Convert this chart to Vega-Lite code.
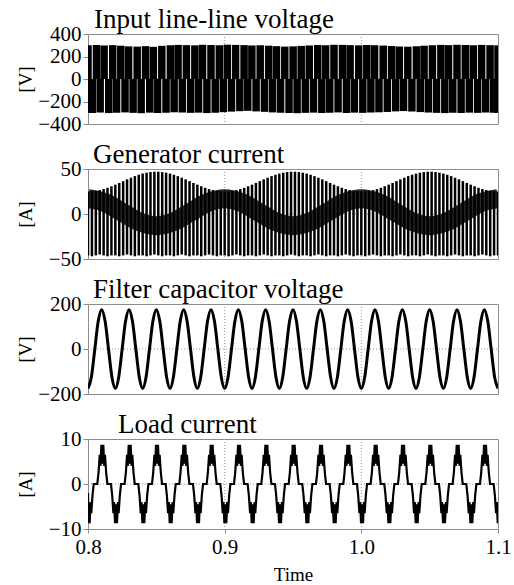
{
"$schema":"https://vega.github.io/schema/vega-lite/v6.json",
"background":"white",
"padding":{"left":15,"top":5,"right":2,"bottom":0},
"bounds":"flush",
"spacing":45,
"config":{
 "font":"Liberation Serif",
 "view":{"stroke":"#8c8c8c","strokeWidth":1},
 "axis":{"labelFont":"Liberation Serif","labelFontSize":21,"labelColor":"#000","titleFont":"Liberation Serif","titleFontWeight":"normal","titleColor":"#000","titleFontSize":19,"domain":false,"grid":false,"tickColor":"#8c8c8c","labelFlush":false},
 "axisY":{"titleX":-63,"titleY":45,"titleBaseline":"middle","titleAlign":"center","tickSize":5,"labelPadding":2},
 "title":{"font":"Liberation Serif","fontSize":27,"fontWeight":"normal","anchor":"start","frame":"group","color":"#000"}
},
"vconcat":[
{
 "width":410,"height":90,
 "title":{"text":"Input line-line voltage","font":"Liberation Serif","fontSize":27,"fontWeight":"normal","anchor":"start","frame":"group","dx":6,"dy":12,"offset":1},
 "encoding":{"x":{"field":"t","type":"quantitative","scale":{"domain":[0.8,1.1],"nice":false,"zero":false},"axis":null}},
 "layer":[
  {"data":{"values":[{"t":0.9},{"t":1.0}]},"mark":{"type":"rule","color":"#999","strokeDash":[1,2]},"encoding":{}},
  {"data":{"values":[{"t":0.8,"t2":1.1,"y":0}]},"mark":{"type":"rule","color":"#999","strokeDash":[1,2]},
   "encoding":{"x2":{"field":"t2"},"y":{"field":"y","type":"quantitative","scale":{"domain":[-400,400],"nice":false},"axis":{"values":[-400,-200,0,200,400],"title":"[V]"}}}},
  {"data":{"values":[
{"t":0.8000,"hi":300},{"t":0.8062,"hi":302},{"t":0.8118,"hi":298},{"t":0.8181,"hi":301},{"t":0.8240,"hi":296},{"t":0.8297,"hi":290},{"t":0.8360,"hi":288},{"t":0.8421,"hi":292},{"t":0.8478,"hi":286},{"t":0.8540,"hi":295},
{"t":0.8603,"hi":300},{"t":0.8659,"hi":303},{"t":0.8720,"hi":301},{"t":0.8782,"hi":299},{"t":0.8838,"hi":304},{"t":0.8900,"hi":302},{"t":0.8961,"hi":300},{"t":0.9019,"hi":305},{"t":0.9080,"hi":303},{"t":0.9142,"hi":301},
{"t":0.9199,"hi":298},{"t":0.9260,"hi":300},{"t":0.9322,"hi":296},{"t":0.9379,"hi":292},{"t":0.9440,"hi":288},{"t":0.9501,"hi":290},{"t":0.9560,"hi":294},{"t":0.9619,"hi":298},{"t":0.9681,"hi":302},{"t":0.9739,"hi":300},
{"t":0.9800,"hi":304},{"t":0.9862,"hi":303},{"t":0.9918,"hi":301},{"t":0.9981,"hi":299},{"t":1.0040,"hi":302},{"t":1.0097,"hi":300},{"t":1.0160,"hi":297},{"t":1.0221,"hi":293},{"t":1.0278,"hi":289},{"t":1.0340,"hi":287},
{"t":1.0403,"hi":291},{"t":1.0459,"hi":296},{"t":1.0520,"hi":300},{"t":1.0582,"hi":303},{"t":1.0638,"hi":301},{"t":1.0700,"hi":304},{"t":1.0761,"hi":302},{"t":1.0819,"hi":300},{"t":1.0880,"hi":303},{"t":1.0942,"hi":301},
{"t":1.1000,"hi":299}]},
   "mark":{"type":"rule","color":"#000","strokeWidth":7.5,"clip":true},
   "encoding":{"y":{"field":"hi","type":"quantitative","scale":{"domain":[-400,400],"nice":false},"axis":{"values":[-400,-200,0,200,400],"title":"[V]"}},"y2":{"datum":0}}},
  {"data":{"values":[
{"t":0.8000,"lo":-300},{"t":0.8031,"lo":-302},{"t":0.8089,"lo":-298},{"t":0.8152,"lo":-303},{"t":0.8209,"lo":-300},{"t":0.8271,"lo":-297},{"t":0.8330,"lo":-301},{"t":0.8389,"lo":-304},{"t":0.8452,"lo":-299},{"t":0.8509,"lo":-302},
{"t":0.8571,"lo":-300},{"t":0.8630,"lo":-296},{"t":0.8690,"lo":-298},{"t":0.8751,"lo":-301},{"t":0.8809,"lo":-299},{"t":0.8870,"lo":-303},{"t":0.8931,"lo":-300},{"t":0.8990,"lo":-295},{"t":0.9050,"lo":-290},{"t":0.9111,"lo":-286},
{"t":0.9169,"lo":-283},{"t":0.9230,"lo":-288},{"t":0.9291,"lo":-292},{"t":0.9350,"lo":-297},{"t":0.9409,"lo":-300},{"t":0.9471,"lo":-302},{"t":0.9530,"lo":-304},{"t":0.9590,"lo":-301},{"t":0.9650,"lo":-299},{"t":0.9711,"lo":-302},
{"t":0.9769,"lo":-300},{"t":0.9830,"lo":-297},{"t":0.9891,"lo":-302},{"t":0.9949,"lo":-299},{"t":1.0011,"lo":-301},{"t":1.0070,"lo":-298},{"t":1.0129,"lo":-296},{"t":1.0190,"lo":-293},{"t":1.0251,"lo":-288},{"t":1.0309,"lo":-285},
{"t":1.0370,"lo":-289},{"t":1.0431,"lo":-294},{"t":1.0490,"lo":-298},{"t":1.0550,"lo":-301},{"t":1.0611,"lo":-303},{"t":1.0669,"lo":-300},{"t":1.0730,"lo":-302},{"t":1.0790,"lo":-299},{"t":1.0851,"lo":-301},{"t":1.0910,"lo":-298},
{"t":1.0969,"lo":-300},{"t":1.1000,"lo":-301}]},
   "mark":{"type":"rule","color":"#000","strokeWidth":7.5,"clip":true},
   "encoding":{"y":{"field":"lo","type":"quantitative","scale":{"domain":[-400,400],"nice":false},"axis":{"values":[-400,-200,0,200,400],"title":"[V]"}},"y2":{"datum":0}}}
 ]
},
{
 "width":410,"height":90,
 "title":{"text":"Generator current","font":"Liberation Serif","fontSize":27,"fontWeight":"normal","anchor":"start","frame":"group","dx":5,"dy":12,"offset":1},
 "encoding":{"x":{"field":"t","type":"quantitative","scale":{"domain":[0.8,1.1],"nice":false,"zero":false},"axis":null}},
 "layer":[
  {"data":{"values":[{"t":0.9},{"t":1.0}]},"mark":{"type":"rule","color":"#999","strokeDash":[1,2]},"encoding":{}},
  {"data":{"values":[{"t":0.8,"t2":1.1,"y":0}]},"mark":{"type":"rule","color":"#999","strokeDash":[1,2]},
   "encoding":{"x2":{"field":"t2"},"y":{"field":"y","type":"quantitative","scale":{"domain":[-50,50],"nice":false},"axis":{"values":[-50,0,50],"title":"[A]"}}}},
  {"data":{"values":[
{"t":0.8,"m":17},{"t":0.8125,"m":12.6},{"t":0.825,"m":2},{"t":0.8375,"m":-8.6},{"t":0.85,"m":-13},{"t":0.8625,"m":-8.6},{"t":0.875,"m":2},{"t":0.8875,"m":12.6},
{"t":0.9,"m":17},{"t":0.9125,"m":12.6},{"t":0.925,"m":2},{"t":0.9375,"m":-8.6},{"t":0.95,"m":-13},{"t":0.9625,"m":-8.6},{"t":0.975,"m":2},{"t":0.9875,"m":12.6},
{"t":1.0,"m":17},{"t":1.0125,"m":12.6},{"t":1.025,"m":2},{"t":1.0375,"m":-8.6},{"t":1.05,"m":-13},{"t":1.0625,"m":-8.6},{"t":1.075,"m":2},{"t":1.0875,"m":12.6},
{"t":1.1,"m":17}]},
   "mark":{"type":"line","color":"#000","strokeWidth":19,"opacity":0.85,"interpolate":"monotone","clip":true,"strokeCap":"butt"},
   "encoding":{"y":{"field":"m","type":"quantitative","scale":{"domain":[-50,50],"nice":false},"axis":{"values":[-50,0,50],"title":"[A]"}}}},
  {"data":{"values":[
{"t":0.8,"hi":25,"lo":-46},{"t":0.80286,"hi":25.2,"lo":-47},{"t":0.80571,"hi":25.7,"lo":-46},{"t":0.80857,"hi":26.6,"lo":-45},{"t":0.81143,"hi":27.7,"lo":-46},{"t":0.81429,"hi":29.1,"lo":-47},{"t":0.81714,"hi":30.8,"lo":-46},
{"t":0.82,"hi":32.6,"lo":-46},{"t":0.82286,"hi":34.5,"lo":-47},{"t":0.82571,"hi":36.5,"lo":-46},{"t":0.82857,"hi":38.5,"lo":-45},{"t":0.83143,"hi":40.3,"lo":-46},{"t":0.83429,"hi":42.1,"lo":-47},{"t":0.83714,"hi":43.6,"lo":-46},
{"t":0.84,"hi":44.9,"lo":-46},{"t":0.84286,"hi":45.9,"lo":-47},{"t":0.84571,"hi":46.6,"lo":-46},{"t":0.84857,"hi":47,"lo":-45},{"t":0.85143,"hi":47,"lo":-46},{"t":0.85429,"hi":46.6,"lo":-47},{"t":0.85714,"hi":45.9,"lo":-46},
{"t":0.86,"hi":44.9,"lo":-46},{"t":0.86286,"hi":43.6,"lo":-47},{"t":0.86571,"hi":42.1,"lo":-46},{"t":0.86857,"hi":40.3,"lo":-45},{"t":0.87143,"hi":38.5,"lo":-46},{"t":0.87429,"hi":36.5,"lo":-47},{"t":0.87714,"hi":34.5,"lo":-46},
{"t":0.88,"hi":32.6,"lo":-46},{"t":0.88286,"hi":30.8,"lo":-47},{"t":0.88571,"hi":29.1,"lo":-46},{"t":0.88857,"hi":27.7,"lo":-45},{"t":0.89143,"hi":26.6,"lo":-46},{"t":0.89429,"hi":25.7,"lo":-47},{"t":0.89714,"hi":25.2,"lo":-46},
{"t":0.9,"hi":25,"lo":-46},{"t":0.90286,"hi":25.2,"lo":-47},{"t":0.90571,"hi":25.7,"lo":-46},{"t":0.90857,"hi":26.6,"lo":-45},{"t":0.91143,"hi":27.7,"lo":-46},{"t":0.91429,"hi":29.1,"lo":-47},{"t":0.91714,"hi":30.8,"lo":-46},
{"t":0.92,"hi":32.6,"lo":-46},{"t":0.92286,"hi":34.5,"lo":-47},{"t":0.92571,"hi":36.5,"lo":-46},{"t":0.92857,"hi":38.5,"lo":-45},{"t":0.93143,"hi":40.3,"lo":-46},{"t":0.93429,"hi":42.1,"lo":-47},{"t":0.93714,"hi":43.6,"lo":-46},
{"t":0.94,"hi":44.9,"lo":-46},{"t":0.94286,"hi":45.9,"lo":-47},{"t":0.94571,"hi":46.6,"lo":-46},{"t":0.94857,"hi":47,"lo":-45},{"t":0.95143,"hi":47,"lo":-46},{"t":0.95429,"hi":46.6,"lo":-47},{"t":0.95714,"hi":45.9,"lo":-46},
{"t":0.96,"hi":44.9,"lo":-46},{"t":0.96286,"hi":43.6,"lo":-47},{"t":0.96571,"hi":42.1,"lo":-46},{"t":0.96857,"hi":40.3,"lo":-45},{"t":0.97143,"hi":38.5,"lo":-46},{"t":0.97429,"hi":36.5,"lo":-47},{"t":0.97714,"hi":34.5,"lo":-46},
{"t":0.98,"hi":32.6,"lo":-46},{"t":0.98286,"hi":30.8,"lo":-47},{"t":0.98571,"hi":29.1,"lo":-46},{"t":0.98857,"hi":27.7,"lo":-45},{"t":0.99143,"hi":26.6,"lo":-46},{"t":0.99429,"hi":25.7,"lo":-47},{"t":0.99714,"hi":25.2,"lo":-46},
{"t":1.0,"hi":25,"lo":-46},{"t":1.00286,"hi":25.2,"lo":-47},{"t":1.00571,"hi":25.7,"lo":-46},{"t":1.00857,"hi":26.6,"lo":-45},{"t":1.01143,"hi":27.7,"lo":-46},{"t":1.01429,"hi":29.1,"lo":-47},{"t":1.01714,"hi":30.8,"lo":-46},
{"t":1.02,"hi":32.6,"lo":-46},{"t":1.02286,"hi":34.5,"lo":-47},{"t":1.02571,"hi":36.5,"lo":-46},{"t":1.02857,"hi":38.5,"lo":-45},{"t":1.03143,"hi":40.3,"lo":-46},{"t":1.03429,"hi":42.1,"lo":-47},{"t":1.03714,"hi":43.6,"lo":-46},
{"t":1.04,"hi":44.9,"lo":-46},{"t":1.04286,"hi":45.9,"lo":-47},{"t":1.04571,"hi":46.6,"lo":-46},{"t":1.04857,"hi":47,"lo":-45},{"t":1.05143,"hi":47,"lo":-46},{"t":1.05429,"hi":46.6,"lo":-47},{"t":1.05714,"hi":45.9,"lo":-46},
{"t":1.06,"hi":44.9,"lo":-46},{"t":1.06286,"hi":43.6,"lo":-47},{"t":1.06571,"hi":42.1,"lo":-46},{"t":1.06857,"hi":40.3,"lo":-45},{"t":1.07143,"hi":38.5,"lo":-46},{"t":1.07429,"hi":36.5,"lo":-47},{"t":1.07714,"hi":34.5,"lo":-46},
{"t":1.08,"hi":32.6,"lo":-46},{"t":1.08286,"hi":30.8,"lo":-47},{"t":1.08571,"hi":29.1,"lo":-46},{"t":1.08857,"hi":27.7,"lo":-45},{"t":1.09143,"hi":26.6,"lo":-46},{"t":1.09429,"hi":25.7,"lo":-47},{"t":1.09714,"hi":25.2,"lo":-46},
{"t":1.1,"hi":25,"lo":-46}]},
   "mark":{"type":"rule","color":"#000","strokeWidth":2.5,"clip":true},
   "encoding":{"y":{"field":"hi","type":"quantitative","scale":{"domain":[-50,50],"nice":false},"axis":{"values":[-50,0,50],"title":"[A]"}},"y2":{"field":"lo"}}}
 ]
},
{
 "width":410,"height":90,
 "title":{"text":"Filter capacitor voltage","font":"Liberation Serif","fontSize":27,"fontWeight":"normal","anchor":"start","frame":"group","dx":5,"dy":12,"offset":1},
 "encoding":{"x":{"field":"t","type":"quantitative","scale":{"domain":[0.8,1.1],"nice":false,"zero":false},"axis":null}},
 "layer":[
  {"data":{"values":[{"t":0.9},{"t":1.0}]},"mark":{"type":"rule","color":"#999","strokeDash":[1,2]},"encoding":{}},
  {"data":{"values":[{"t":0.8,"t2":1.1,"y":0}]},"mark":{"type":"rule","color":"#999","strokeDash":[1,2]},
   "encoding":{"x2":{"field":"t2"},"y":{"field":"y","type":"quantitative","scale":{"domain":[-200,200],"nice":false},"axis":{"values":[-200,0,200],"title":"[V]"}}}},
  {"data":{"values":[
{"t":0.8,"v":-175},{"t":0.8025,"v":-124},{"t":0.805,"v":0},{"t":0.8075,"v":124},{"t":0.81,"v":175},{"t":0.8125,"v":124},{"t":0.815,"v":0},{"t":0.8175,"v":-124},
{"t":0.82,"v":-175},{"t":0.8225,"v":-124},{"t":0.825,"v":0},{"t":0.8275,"v":124},{"t":0.83,"v":175},{"t":0.8325,"v":124},{"t":0.835,"v":0},{"t":0.8375,"v":-124},
{"t":0.84,"v":-175},{"t":0.8425,"v":-124},{"t":0.845,"v":0},{"t":0.8475,"v":124},{"t":0.85,"v":175},{"t":0.8525,"v":124},{"t":0.855,"v":0},{"t":0.8575,"v":-124},
{"t":0.86,"v":-175},{"t":0.8625,"v":-124},{"t":0.865,"v":0},{"t":0.8675,"v":124},{"t":0.87,"v":175},{"t":0.8725,"v":124},{"t":0.875,"v":0},{"t":0.8775,"v":-124},
{"t":0.88,"v":-175},{"t":0.8825,"v":-124},{"t":0.885,"v":0},{"t":0.8875,"v":124},{"t":0.89,"v":175},{"t":0.8925,"v":124},{"t":0.895,"v":0},{"t":0.8975,"v":-124},
{"t":0.9,"v":-175},{"t":0.9025,"v":-124},{"t":0.905,"v":0},{"t":0.9075,"v":124},{"t":0.91,"v":175},{"t":0.9125,"v":124},{"t":0.915,"v":0},{"t":0.9175,"v":-124},
{"t":0.92,"v":-175},{"t":0.9225,"v":-124},{"t":0.925,"v":0},{"t":0.9275,"v":124},{"t":0.93,"v":175},{"t":0.9325,"v":124},{"t":0.935,"v":0},{"t":0.9375,"v":-124},
{"t":0.94,"v":-175},{"t":0.9425,"v":-124},{"t":0.945,"v":0},{"t":0.9475,"v":124},{"t":0.95,"v":175},{"t":0.9525,"v":124},{"t":0.955,"v":0},{"t":0.9575,"v":-124},
{"t":0.96,"v":-175},{"t":0.9625,"v":-124},{"t":0.965,"v":0},{"t":0.9675,"v":124},{"t":0.97,"v":175},{"t":0.9725,"v":124},{"t":0.975,"v":0},{"t":0.9775,"v":-124},
{"t":0.98,"v":-175},{"t":0.9825,"v":-124},{"t":0.985,"v":0},{"t":0.9875,"v":124},{"t":0.99,"v":175},{"t":0.9925,"v":124},{"t":0.995,"v":0},{"t":0.9975,"v":-124},
{"t":1.0,"v":-175},{"t":1.0025,"v":-124},{"t":1.005,"v":0},{"t":1.0075,"v":124},{"t":1.01,"v":175},{"t":1.0125,"v":124},{"t":1.015,"v":0},{"t":1.0175,"v":-124},
{"t":1.02,"v":-175},{"t":1.0225,"v":-124},{"t":1.025,"v":0},{"t":1.0275,"v":124},{"t":1.03,"v":175},{"t":1.0325,"v":124},{"t":1.035,"v":0},{"t":1.0375,"v":-124},
{"t":1.04,"v":-175},{"t":1.0425,"v":-124},{"t":1.045,"v":0},{"t":1.0475,"v":124},{"t":1.05,"v":175},{"t":1.0525,"v":124},{"t":1.055,"v":0},{"t":1.0575,"v":-124},
{"t":1.06,"v":-175},{"t":1.0625,"v":-124},{"t":1.065,"v":0},{"t":1.0675,"v":124},{"t":1.07,"v":175},{"t":1.0725,"v":124},{"t":1.075,"v":0},{"t":1.0775,"v":-124},
{"t":1.08,"v":-175},{"t":1.0825,"v":-124},{"t":1.085,"v":0},{"t":1.0875,"v":124},{"t":1.09,"v":175},{"t":1.0925,"v":124},{"t":1.095,"v":0},{"t":1.0975,"v":-124},
{"t":1.1,"v":-175}]},
   "mark":{"type":"line","color":"#000","strokeWidth":3,"interpolate":"monotone","clip":true},
   "encoding":{"y":{"field":"v","type":"quantitative","scale":{"domain":[-200,200],"nice":false},"axis":{"values":[-200,0,200],"title":"[V]"}}}}
 ]
},
{
 "width":410,"height":90,
 "title":{"text":"Load current","font":"Liberation Serif","fontSize":27,"fontWeight":"normal","anchor":"start","frame":"group","dx":30,"dy":12,"offset":1},
 "encoding":{"x":{"field":"t","type":"quantitative","scale":{"domain":[0.8,1.1],"nice":false,"zero":false},"axis":{"values":[0.8,0.9,1.0,1.1],"format":".1f","title":"Time","tickSize":4,"labelPadding":3,"titlePadding":8}}},
 "layer":[
  {"data":{"values":[{"t":0.9},{"t":1.0}]},"mark":{"type":"rule","color":"#999","strokeDash":[1,2]},"encoding":{}},
  {"data":{"values":[{"t":0.8,"t2":1.1,"y":0}]},"mark":{"type":"rule","color":"#999","strokeDash":[1,2]},
   "encoding":{"x2":{"field":"t2"},"y":{"field":"y","type":"quantitative","scale":{"domain":[-10,10],"nice":false},"axis":{"values":[-10,0,10],"title":"[A]"}}}},
  {"data":{"values":[
{"t":0.8,"y":-2},{"t":0.8005,"y":-8.2},{"t":0.8012,"y":-8.7},{"t":0.8019,"y":-4},{"t":0.8024,"y":-6.5},{"t":0.8033,"y":-2.5},{"t":0.8042,"y":0},
{"t":0.8068,"y":0},{"t":0.8077,"y":2.5},{"t":0.8086,"y":6.5},{"t":0.8091,"y":4},{"t":0.8098,"y":8.7},{"t":0.8105,"y":4.5},{"t":0.8112,"y":8.7},{"t":0.8119,"y":4},{"t":0.8124,"y":6.5},{"t":0.8133,"y":2.5},{"t":0.8142,"y":0},
{"t":0.8168,"y":0},{"t":0.8177,"y":-2.5},{"t":0.8186,"y":-6.5},{"t":0.8191,"y":-4},{"t":0.8198,"y":-8.7},{"t":0.8205,"y":-4.5},{"t":0.8212,"y":-8.7},{"t":0.8219,"y":-4},{"t":0.8224,"y":-6.5},{"t":0.8233,"y":-2.5},{"t":0.8242,"y":0},
{"t":0.8268,"y":0},{"t":0.8277,"y":2.5},{"t":0.8286,"y":6.5},{"t":0.8291,"y":4},{"t":0.8298,"y":8.7},{"t":0.8305,"y":4.5},{"t":0.8312,"y":8.7},{"t":0.8319,"y":4},{"t":0.8324,"y":6.5},{"t":0.8333,"y":2.5},{"t":0.8342,"y":0},
{"t":0.8368,"y":0},{"t":0.8377,"y":-2.5},{"t":0.8386,"y":-6.5},{"t":0.8391,"y":-4},{"t":0.8398,"y":-8.7},{"t":0.8405,"y":-4.5},{"t":0.8412,"y":-8.7},{"t":0.8419,"y":-4},{"t":0.8424,"y":-6.5},{"t":0.8433,"y":-2.5},{"t":0.8442,"y":0},
{"t":0.8468,"y":0},{"t":0.8477,"y":2.5},{"t":0.8486,"y":6.5},{"t":0.8491,"y":4},{"t":0.8498,"y":8.7},{"t":0.8505,"y":4.5},{"t":0.8512,"y":8.7},{"t":0.8519,"y":4},{"t":0.8524,"y":6.5},{"t":0.8533,"y":2.5},{"t":0.8542,"y":0},
{"t":0.8568,"y":0},{"t":0.8577,"y":-2.5},{"t":0.8586,"y":-6.5},{"t":0.8591,"y":-4},{"t":0.8598,"y":-8.7},{"t":0.8605,"y":-4.5},{"t":0.8612,"y":-8.7},{"t":0.8619,"y":-4},{"t":0.8624,"y":-6.5},{"t":0.8633,"y":-2.5},{"t":0.8642,"y":0},
{"t":0.8668,"y":0},{"t":0.8677,"y":2.5},{"t":0.8686,"y":6.5},{"t":0.8691,"y":4},{"t":0.8698,"y":8.7},{"t":0.8705,"y":4.5},{"t":0.8712,"y":8.7},{"t":0.8719,"y":4},{"t":0.8724,"y":6.5},{"t":0.8733,"y":2.5},{"t":0.8742,"y":0},
{"t":0.8768,"y":0},{"t":0.8777,"y":-2.5},{"t":0.8786,"y":-6.5},{"t":0.8791,"y":-4},{"t":0.8798,"y":-8.7},{"t":0.8805,"y":-4.5},{"t":0.8812,"y":-8.7},{"t":0.8819,"y":-4},{"t":0.8824,"y":-6.5},{"t":0.8833,"y":-2.5},{"t":0.8842,"y":0},
{"t":0.8868,"y":0},{"t":0.8877,"y":2.5},{"t":0.8886,"y":6.5},{"t":0.8891,"y":4},{"t":0.8898,"y":8.7},{"t":0.8905,"y":4.5},{"t":0.8912,"y":8.7},{"t":0.8919,"y":4},{"t":0.8924,"y":6.5},{"t":0.8933,"y":2.5},{"t":0.8942,"y":0},
{"t":0.8968,"y":0},{"t":0.8977,"y":-2.5},{"t":0.8986,"y":-6.5},{"t":0.8991,"y":-4},{"t":0.8998,"y":-8.7},{"t":0.9005,"y":-4.5},{"t":0.9012,"y":-8.7},{"t":0.9019,"y":-4},{"t":0.9024,"y":-6.5},{"t":0.9033,"y":-2.5},{"t":0.9042,"y":0},
{"t":0.9068,"y":0},{"t":0.9077,"y":2.5},{"t":0.9086,"y":6.5},{"t":0.9091,"y":4},{"t":0.9098,"y":8.7},{"t":0.9105,"y":4.5},{"t":0.9112,"y":8.7},{"t":0.9119,"y":4},{"t":0.9124,"y":6.5},{"t":0.9133,"y":2.5},{"t":0.9142,"y":0},
{"t":0.9168,"y":0},{"t":0.9177,"y":-2.5},{"t":0.9186,"y":-6.5},{"t":0.9191,"y":-4},{"t":0.9198,"y":-8.7},{"t":0.9205,"y":-4.5},{"t":0.9212,"y":-8.7},{"t":0.9219,"y":-4},{"t":0.9224,"y":-6.5},{"t":0.9233,"y":-2.5},{"t":0.9242,"y":0},
{"t":0.9268,"y":0},{"t":0.9277,"y":2.5},{"t":0.9286,"y":6.5},{"t":0.9291,"y":4},{"t":0.9298,"y":8.7},{"t":0.9305,"y":4.5},{"t":0.9312,"y":8.7},{"t":0.9319,"y":4},{"t":0.9324,"y":6.5},{"t":0.9333,"y":2.5},{"t":0.9342,"y":0},
{"t":0.9368,"y":0},{"t":0.9377,"y":-2.5},{"t":0.9386,"y":-6.5},{"t":0.9391,"y":-4},{"t":0.9398,"y":-8.7},{"t":0.9405,"y":-4.5},{"t":0.9412,"y":-8.7},{"t":0.9419,"y":-4},{"t":0.9424,"y":-6.5},{"t":0.9433,"y":-2.5},{"t":0.9442,"y":0},
{"t":0.9468,"y":0},{"t":0.9477,"y":2.5},{"t":0.9486,"y":6.5},{"t":0.9491,"y":4},{"t":0.9498,"y":8.7},{"t":0.9505,"y":4.5},{"t":0.9512,"y":8.7},{"t":0.9519,"y":4},{"t":0.9524,"y":6.5},{"t":0.9533,"y":2.5},{"t":0.9542,"y":0},
{"t":0.9568,"y":0},{"t":0.9577,"y":-2.5},{"t":0.9586,"y":-6.5},{"t":0.9591,"y":-4},{"t":0.9598,"y":-8.7},{"t":0.9605,"y":-4.5},{"t":0.9612,"y":-8.7},{"t":0.9619,"y":-4},{"t":0.9624,"y":-6.5},{"t":0.9633,"y":-2.5},{"t":0.9642,"y":0},
{"t":0.9668,"y":0},{"t":0.9677,"y":2.5},{"t":0.9686,"y":6.5},{"t":0.9691,"y":4},{"t":0.9698,"y":8.7},{"t":0.9705,"y":4.5},{"t":0.9712,"y":8.7},{"t":0.9719,"y":4},{"t":0.9724,"y":6.5},{"t":0.9733,"y":2.5},{"t":0.9742,"y":0},
{"t":0.9768,"y":0},{"t":0.9777,"y":-2.5},{"t":0.9786,"y":-6.5},{"t":0.9791,"y":-4},{"t":0.9798,"y":-8.7},{"t":0.9805,"y":-4.5},{"t":0.9812,"y":-8.7},{"t":0.9819,"y":-4},{"t":0.9824,"y":-6.5},{"t":0.9833,"y":-2.5},{"t":0.9842,"y":0},
{"t":0.9868,"y":0},{"t":0.9877,"y":2.5},{"t":0.9886,"y":6.5},{"t":0.9891,"y":4},{"t":0.9898,"y":8.7},{"t":0.9905,"y":4.5},{"t":0.9912,"y":8.7},{"t":0.9919,"y":4},{"t":0.9924,"y":6.5},{"t":0.9933,"y":2.5},{"t":0.9942,"y":0},
{"t":0.9968,"y":0},{"t":0.9977,"y":-2.5},{"t":0.9986,"y":-6.5},{"t":0.9991,"y":-4},{"t":0.9998,"y":-8.7},{"t":1.0005,"y":-4.5},{"t":1.0012,"y":-8.7},{"t":1.0019,"y":-4},{"t":1.0024,"y":-6.5},{"t":1.0033,"y":-2.5},{"t":1.0042,"y":0},
{"t":1.0068,"y":0},{"t":1.0077,"y":2.5},{"t":1.0086,"y":6.5},{"t":1.0091,"y":4},{"t":1.0098,"y":8.7},{"t":1.0105,"y":4.5},{"t":1.0112,"y":8.7},{"t":1.0119,"y":4},{"t":1.0124,"y":6.5},{"t":1.0133,"y":2.5},{"t":1.0142,"y":0},
{"t":1.0168,"y":0},{"t":1.0177,"y":-2.5},{"t":1.0186,"y":-6.5},{"t":1.0191,"y":-4},{"t":1.0198,"y":-8.7},{"t":1.0205,"y":-4.5},{"t":1.0212,"y":-8.7},{"t":1.0219,"y":-4},{"t":1.0224,"y":-6.5},{"t":1.0233,"y":-2.5},{"t":1.0242,"y":0},
{"t":1.0268,"y":0},{"t":1.0277,"y":2.5},{"t":1.0286,"y":6.5},{"t":1.0291,"y":4},{"t":1.0298,"y":8.7},{"t":1.0305,"y":4.5},{"t":1.0312,"y":8.7},{"t":1.0319,"y":4},{"t":1.0324,"y":6.5},{"t":1.0333,"y":2.5},{"t":1.0342,"y":0},
{"t":1.0368,"y":0},{"t":1.0377,"y":-2.5},{"t":1.0386,"y":-6.5},{"t":1.0391,"y":-4},{"t":1.0398,"y":-8.7},{"t":1.0405,"y":-4.5},{"t":1.0412,"y":-8.7},{"t":1.0419,"y":-4},{"t":1.0424,"y":-6.5},{"t":1.0433,"y":-2.5},{"t":1.0442,"y":0},
{"t":1.0468,"y":0},{"t":1.0477,"y":2.5},{"t":1.0486,"y":6.5},{"t":1.0491,"y":4},{"t":1.0498,"y":8.7},{"t":1.0505,"y":4.5},{"t":1.0512,"y":8.7},{"t":1.0519,"y":4},{"t":1.0524,"y":6.5},{"t":1.0533,"y":2.5},{"t":1.0542,"y":0},
{"t":1.0568,"y":0},{"t":1.0577,"y":-2.5},{"t":1.0586,"y":-6.5},{"t":1.0591,"y":-4},{"t":1.0598,"y":-8.7},{"t":1.0605,"y":-4.5},{"t":1.0612,"y":-8.7},{"t":1.0619,"y":-4},{"t":1.0624,"y":-6.5},{"t":1.0633,"y":-2.5},{"t":1.0642,"y":0},
{"t":1.0668,"y":0},{"t":1.0677,"y":2.5},{"t":1.0686,"y":6.5},{"t":1.0691,"y":4},{"t":1.0698,"y":8.7},{"t":1.0705,"y":4.5},{"t":1.0712,"y":8.7},{"t":1.0719,"y":4},{"t":1.0724,"y":6.5},{"t":1.0733,"y":2.5},{"t":1.0742,"y":0},
{"t":1.0768,"y":0},{"t":1.0777,"y":-2.5},{"t":1.0786,"y":-6.5},{"t":1.0791,"y":-4},{"t":1.0798,"y":-8.7},{"t":1.0805,"y":-4.5},{"t":1.0812,"y":-8.7},{"t":1.0819,"y":-4},{"t":1.0824,"y":-6.5},{"t":1.0833,"y":-2.5},{"t":1.0842,"y":0},
{"t":1.0868,"y":0},{"t":1.0877,"y":2.5},{"t":1.0886,"y":6.5},{"t":1.0891,"y":4},{"t":1.0898,"y":8.7},{"t":1.0905,"y":4.5},{"t":1.0912,"y":8.7},{"t":1.0919,"y":4},{"t":1.0924,"y":6.5},{"t":1.0933,"y":2.5},{"t":1.0942,"y":0},
{"t":1.0968,"y":0},{"t":1.0977,"y":-2.5},{"t":1.0986,"y":-6.5},{"t":1.0991,"y":-4},{"t":1.0998,"y":-8.7},{"t":1.1,"y":-7.5}]},
   "mark":{"type":"line","color":"#000","strokeWidth":2.2,"clip":true},
   "encoding":{"y":{"field":"y","type":"quantitative","scale":{"domain":[-10,10],"nice":false},"axis":{"values":[-10,0,10],"title":"[A]"}}}}
 ]
}
]
}
